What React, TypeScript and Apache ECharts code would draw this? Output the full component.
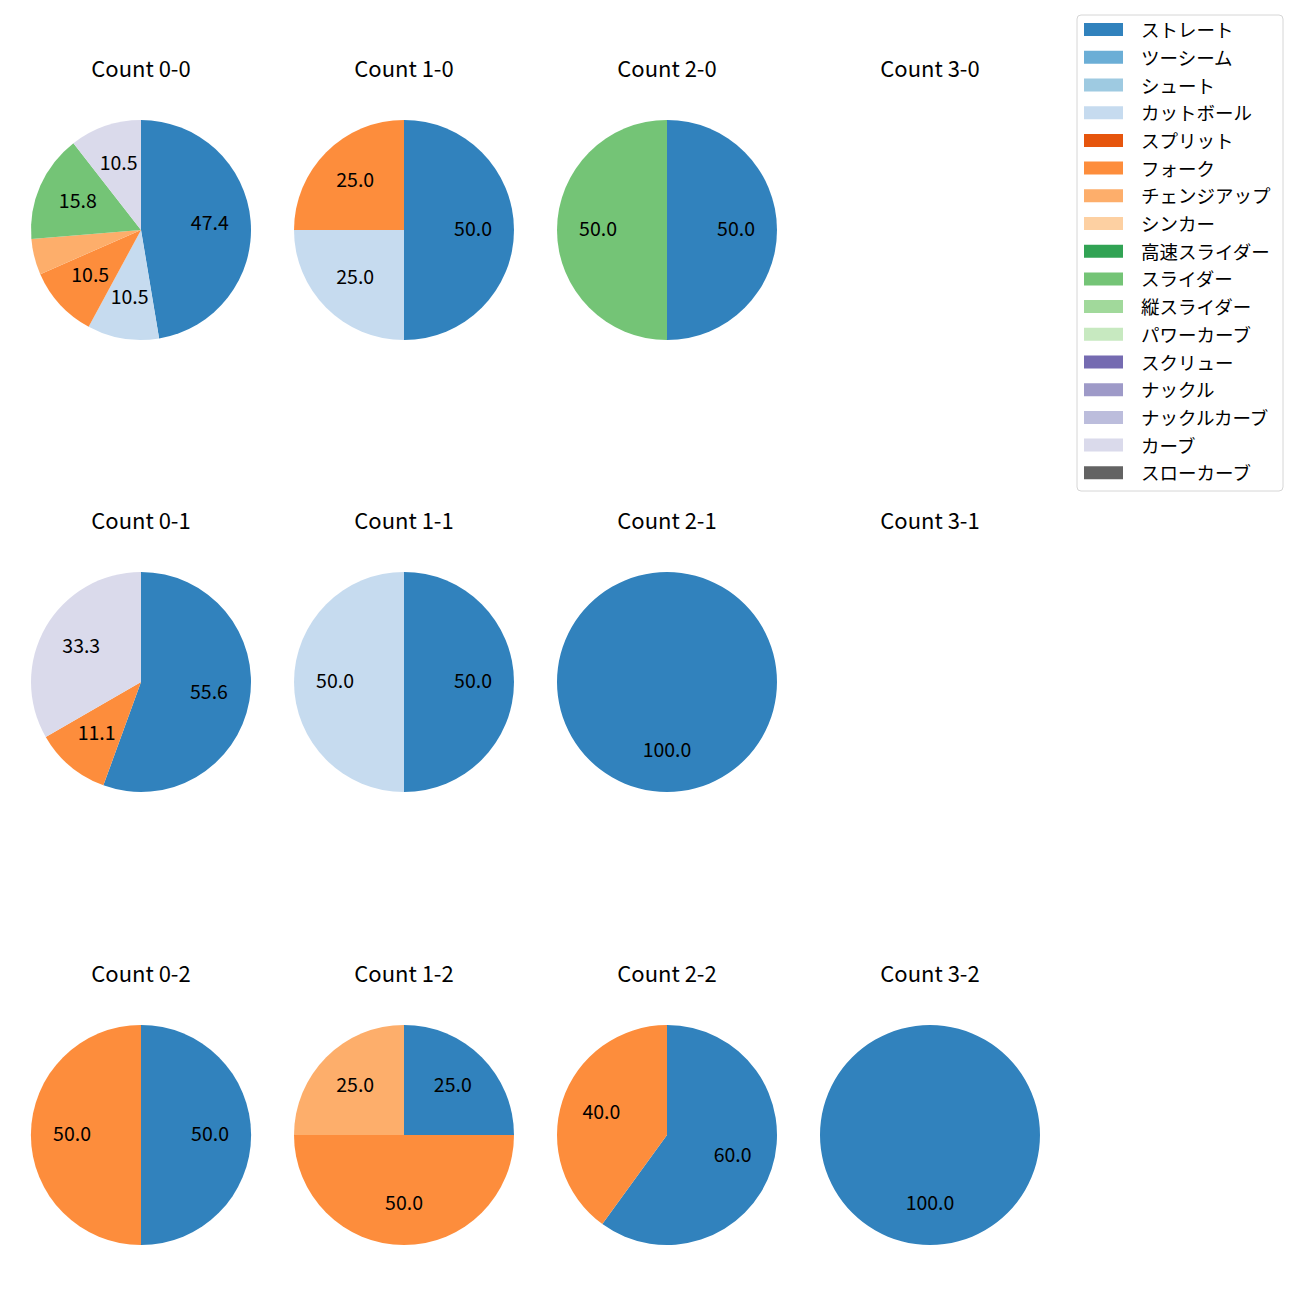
import React, { useEffect, useRef } from 'react';
import * as echarts from 'echarts';

const pitchTypes = [
  'ストレート', 'ツーシーム', 'シュート', 'カットボール', 'スプリット', 'フォーク',
  'チェンジアップ', 'シンカー', '高速スライダー', 'スライダー', '縦スライダー',
  'パワーカーブ', 'スクリュー', 'ナックル', 'ナックルカーブ', 'カーブ', 'スローカーブ',
];
const pitchColors = [
  '#3182bd', '#6baed6', '#9ecae1', '#c6dbef', '#e6550d', '#fd8d3c',
  '#fdae6b', '#fdd0a2', '#31a354', '#74c476', '#a1d99b',
  '#c7e9c0', '#756bb1', '#9e9ac8', '#bcbddc', '#dadaeb', '#636363',
];

const countTitles = [
  'Count 0-0', 'Count 1-0', 'Count 2-0', 'Count 3-0',
  'Count 0-1', 'Count 1-1', 'Count 2-1', 'Count 3-1',
  'Count 0-2', 'Count 1-2', 'Count 2-2', 'Count 3-2',
];

const c00Names = ['ストレート', 'カットボール', 'フォーク', 'チェンジアップ', 'スライダー', 'カーブ'];
const c00Values = [9, 2, 2, 1, 3, 2];
const c10Names = ['ストレート', 'カットボール', 'フォーク'];
const c10Values = [2, 1, 1];
const c20Names = ['ストレート', 'スライダー'];
const c20Values = [1, 1];
const c30Names: string[] = [];
const c30Values: number[] = [];
const c01Names = ['ストレート', 'フォーク', 'カーブ'];
const c01Values = [5, 1, 3];
const c11Names = ['ストレート', 'カットボール'];
const c11Values = [1, 1];
const c21Names = ['ストレート'];
const c21Values = [1];
const c31Names: string[] = [];
const c31Values: number[] = [];
const c02Names = ['ストレート', 'フォーク'];
const c02Values = [1, 1];
const c12Names = ['ストレート', 'フォーク', 'チェンジアップ'];
const c12Values = [1, 2, 1];
const c22Names = ['ストレート', 'フォーク'];
const c22Values = [3, 2];
const c32Names = ['ストレート'];
const c32Values = [1];

const subplotNames = [c00Names, c10Names, c20Names, c30Names, c01Names, c11Names, c21Names, c31Names, c02Names, c12Names, c22Names, c32Names];
const subplotValues = [c00Values, c10Values, c20Values, c30Values, c01Values, c11Values, c21Values, c31Values, c02Values, c12Values, c22Values, c32Values];

const FONT = '"Noto Sans CJK JP", "Noto Sans", sans-serif';

export default function App() {
  const ref = useRef<HTMLDivElement>(null);
  useEffect(() => {
    if (!ref.current) return;
    const chart = echarts.init(ref.current, null, { renderer: 'svg' });
    const colX = [141, 404, 667, 930];
    const rowY = [230, 682, 1135];
    const R = 110;
    const series: any[] = [];
    const graphic: any[] = [];
    countTitles.forEach((title, i) => {
      const cx = colX[i % 4];
      const cy = rowY[Math.floor(i / 4)];
      graphic.push({
        type: 'text', x: cx, y: cy - 163.5,
        style: { text: title, font: `22px ${FONT}`, fill: '#000', align: 'center', verticalAlign: 'middle' },
      });
      const names = subplotNames[i];
      const vals = subplotValues[i];
      if (!names.length) return;
      const total = vals.reduce((a, b) => a + b, 0);
      const data = names.map((n, k) => ({
        name: n, value: vals[k],
        itemStyle: { color: pitchColors[pitchTypes.indexOf(n)] },
      }));
      series.push({
        type: 'pie', center: [cx, cy], radius: [0, R], startAngle: 90, clockwise: true,
        data, label: { show: false }, labelLine: { show: false }, silent: true,
        emphasis: { disabled: true }, avoidLabelOverlap: false,
      });
      series.push({
        type: 'pie', center: [cx, cy], radius: [R * 0.2, R], startAngle: 90, clockwise: true,
        data: names.map((n, k) => ({ name: n, value: vals[k], itemStyle: { color: 'rgba(0,0,0,0)' } })),
        silent: true, emphasis: { disabled: true }, avoidLabelOverlap: false,
        labelLine: { show: false },
        label: {
          show: true, position: 'inside', color: '#000', fontSize: 19.5, fontFamily: FONT,
          offset: [0, -3],
          formatter: (p: any) => {
            const pct = (p.value / total) * 100;
            return pct < 10 ? '' : pct.toFixed(1);
          },
        },
      });
    });
    // legend
    const lx = 1077, ly = 15, lw = 206, lh = 476;
    graphic.push({
      type: 'rect', shape: { x: lx, y: ly, width: lw, height: lh, r: 4 },
      style: { fill: 'rgba(255,255,255,0.8)', stroke: '#d6d6d6', lineWidth: 1 },
    });
    pitchTypes.forEach((n, k) => {
      const yc = 29.6 + k * 27.7;
      graphic.push({
        type: 'rect', shape: { x: 1084, y: yc - 6.5, width: 39, height: 13 },
        style: { fill: pitchColors[k] },
      });
      graphic.push({
        type: 'text', x: 1141, y: yc - 0.5,
        style: { text: n, font: `18.5px ${FONT}`, fill: '#000', align: 'left', verticalAlign: 'middle' },
      });
    });
    chart.setOption({ animation: false, series, graphic });
    return () => chart.dispose();
  }, []);
  return <div ref={ref} style={{ position: 'absolute', left: 0, top: 0, width: 1300, height: 1300, background: '#fff' }} />;
}
